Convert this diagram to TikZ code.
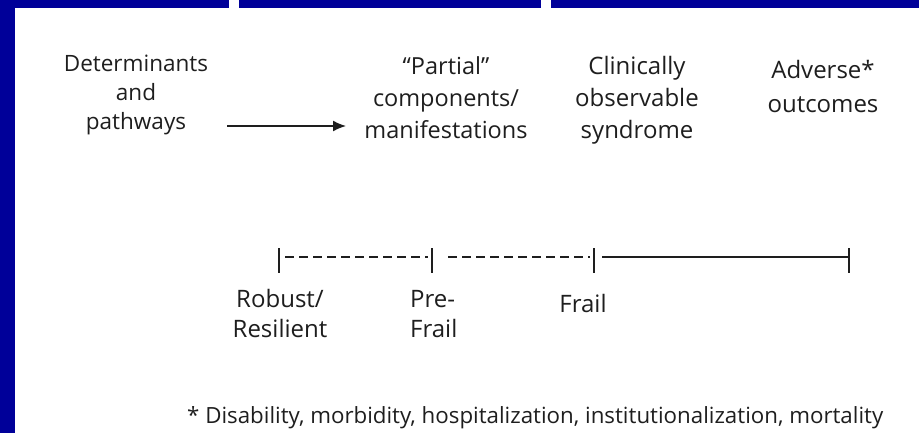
\documentclass[tikz,border=0pt]{standalone}
\usepackage{fontspec}
\setmainfont{Open Sans}
\usetikzlibrary{arrows.meta,calc}
\definecolor{frameblue}{RGB}{0,0,153}
\definecolor{ink}{RGB}{30,30,30}
\begin{document}
\begin{tikzpicture}[x=1pt,y=-1pt,
  lbl/.style={text=ink, font=\fontsize{23.5}{30}\selectfont, align=center, inner sep=0pt, anchor=base},
  tickmark/.style={draw=ink, line width=1.8pt},
  dashseg/.style={draw=ink, line width=1.4pt, dash pattern=on 9pt off 5pt},
  solidseg/.style={draw=ink, line width=1.6pt},
  flow/.style={draw=ink, line width=1.6pt, -{Latex[length=13pt,width=11pt]}}]
\useasboundingbox (0,0) rectangle (919,433);
% frame
\fill[white] (0,0) rectangle (919,433);
\fill[frameblue] (0,0) rectangle (229,8);
\fill[frameblue] (239,0) rectangle (541,8);
\fill[frameblue] (551,0) rectangle (919,8);
\fill[frameblue] (0,0) rectangle (15,433);
% top row (base anchor = baseline of last line)
\node[lbl, font=\fontsize{22.5}{29}\selectfont] (det) at (136,130) {Determinants\\and\\pathways};
\node[lbl, font=\fontsize{23.5}{32}\selectfont] (part) at (446,139) {“Partial”\\components/\\manifestations};
\node[lbl, font=\fontsize{24}{32}\selectfont] (clin) at (637,139) {Clinically\\observable\\syndrome};
\node[lbl, font=\fontsize{24}{34}\selectfont] (adv) at (823,113) {Adverse*\\outcomes};
\coordinate (a1) at (227,126);
\coordinate (a2) at (346,126);
\draw[flow] (a1) -- (a2);
% timeline
\coordinate (t1) at (279,257);
\coordinate (t2) at (432,257);
\coordinate (t3) at (594,257);
\coordinate (t4) at (849,257);
\foreach \t in {t1,t2,t3,t4} \draw[tickmark] ($(\t)+(0,-9)$) -- ($(\t)+(0,16)$);
\draw[dashseg] ($(t1)+(6,0)$) -- ($(t2)+(-4,0)$);
\draw[dashseg] ($(t2)+(16,0)$) -- ($(t3)+(-4,0)$);
\draw[solidseg] ($(t3)+(8,0)$) -- (t4);
% state labels
\node[lbl, font=\fontsize{24}{30}\selectfont] (rob) at (280,337) {Robust/\\Resilient};
\node[lbl, font=\fontsize{24}{30}\selectfont, align=left, anchor=base west] (pre) at (410,337) {Pre-\\Frail};
\node[lbl, font=\fontsize{24}{30}\selectfont] (frail) at (583,312) {Frail};
% footnote
\node[lbl, font=\fontsize{22.3}{26}\selectfont, anchor=base west] (foot) at (187,423) {* Disability, morbidity, hospitalization, institutionalization, mortality};
\end{tikzpicture}
\end{document}
